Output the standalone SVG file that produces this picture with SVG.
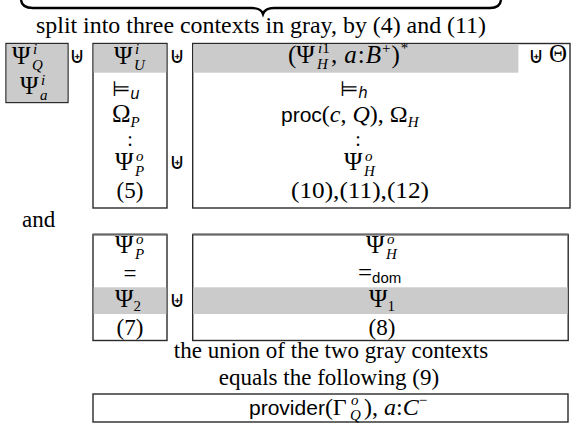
<svg xmlns="http://www.w3.org/2000/svg" width="574" height="426" viewBox="0 0 574 426">
<style>
text{font-family:"Liberation Serif","Times New Roman",serif;font-size:23px;fill:#000}
.m{font-size:25px}
.i{font-style:italic}
.sc{font-size:15px;font-style:italic}
.su{font-size:15px;font-style:normal}
.sf{font-family:"Liberation Sans",Arial,sans-serif;font-size:21px;font-style:normal}
.sfs{font-family:"Liberation Sans",Arial,sans-serif;font-size:15px}
.op{font-family:"DejaVu Sans",sans-serif;font-size:22px}
.ent{font-family:"DejaVu Sans",sans-serif;font-size:21px}
.dots{font-size:20px}
.box{fill:#fff;stroke:#2a2a2a;stroke-width:1.4}
.gray{fill:#cbcbcb;stroke:none}
.topedge{stroke:#6a6a6a;stroke-width:2.2}
.mid{text-anchor:middle}
</style>
<rect width="574" height="426" fill="#fff"/>
<g id="connectors">
  <path id="brace" d="M21,0 Q22,8 33,8 L252,8 Q261,8 263,14 Q265,8 274,8 L490,8 Q500,8 501,0" fill="none" stroke="#000" stroke-width="2.4"/>
</g>
<g id="title">
  <text class="mid" x="261" y="33" textLength="450" lengthAdjust="spacingAndGlyphs">split into three contexts in gray, by (4) and (11)</text>
</g>
<g id="box1">
  <rect class="box" x="6" y="43.5" width="62" height="59"/>
  <rect class="gray" x="6.7" y="44.2" width="60.6" height="57.6"/>
  <text class="m" x="12" y="64">Ψ</text><text class="sc" x="33" y="54">i</text><text class="sc" x="32" y="70">Q</text>
  <text class="m" x="20" y="94">Ψ</text><text class="sc" x="41" y="85">i</text><text class="sc" x="40" y="100">a</text>
</g>
<g id="union1"><text class="op mid" x="77" y="63">⊎</text></g>
<g id="box2">
  <rect class="box" x="93" y="43.5" width="74" height="164.5"/>
  <rect class="gray" x="93.7" y="44.2" width="72.6" height="28.5"/>
  <text class="m" x="114" y="64">Ψ</text><text class="sc" x="135" y="54">i</text><text class="sc" x="134" y="70">U</text>
  <text class="ent" x="112" y="96">⊨<tspan class="sc" dy="3">u</tspan></text>
  <text class="m" x="112" y="122">Ω<tspan class="sc" dy="5">P</tspan></text>
  <text class="mid dots" x="130" y="146">:</text>
  <text class="m" x="115" y="170">Ψ</text><text class="sc" x="136" y="161">o</text><text class="sc" x="135" y="176">P</text>
  <text class="mid" x="130" y="198">(5)</text>
</g>
<g id="union2"><text class="op mid" x="177" y="63">⊎</text><text class="op mid" x="177" y="169">⊎</text></g>
<g id="box3">
  <rect class="box" x="192.7" y="43.5" width="377.3" height="164.5"/>
  <rect class="gray" x="193.4" y="44.2" width="325" height="28.5"/>
  <text class="m" x="288" y="63">(Ψ</text><text class="sc" x="318" y="53">i<tspan class="su">1</tspan></text><text class="sc" x="317" y="69">H</text>
  <text class="m" x="331" y="63">,<tspan class="i" dx="7">a</tspan><tspan dx="1">:</tspan><tspan class="i" dx="1">B</tspan><tspan class="su" dx="1" dy="-10">+</tspan><tspan dx="1" dy="10">)</tspan><tspan class="su" dx="1" dy="-10">*</tspan></text>
  <text class="op" x="528" y="63">⊎</text><text class="m" x="549" y="62">Θ</text>
  <text class="ent" x="340" y="96">⊨<tspan class="sc" dy="2">h</tspan></text>
  <text class="m" x="281" y="122" style="font-size:24px"><tspan class="sf">proc</tspan>(<tspan class="i">c</tspan>, <tspan class="i">Q</tspan>), Ω<tspan class="sc" dy="5">H</tspan></text>
  <text class="mid dots" x="358" y="146">:</text>
  <text class="m" x="344" y="170">Ψ</text><text class="sc" x="365" y="161">o</text><text class="sc" x="364" y="176">H</text>
  <text class="mid" x="360" y="198" textLength="138" lengthAdjust="spacingAndGlyphs">(10),(11),(12)</text>
</g>
<g id="and"><text x="22" y="227">and</text></g>
<g id="boxA">
  <rect class="box" x="93" y="234.5" width="74" height="106"/>
  <line class="topedge" x1="93" y1="234.5" x2="167" y2="234.5"/>
  <rect class="gray" x="93.7" y="287.3" width="72.6" height="26.7"/>
  <text class="m" x="115" y="253">Ψ</text><text class="sc" x="136" y="244">o</text><text class="sc" x="135" y="259">P</text>
  <text class="mid" x="130" y="281">=</text>
  <text class="m" x="115" y="307">Ψ<tspan class="su" dy="4">2</tspan></text>
  <text class="mid" x="130" y="335">(7)</text>
</g>
<g id="union3"><text class="op mid" x="177" y="307">⊎</text></g>
<g id="boxB">
  <rect class="box" x="192.7" y="234.5" width="375.5" height="106"/>
  <line class="topedge" x1="192.7" y1="234.5" x2="568.2" y2="234.5"/>
  <rect class="gray" x="193.4" y="287.3" width="374.1" height="26.7"/>
  <text class="m" x="366" y="253">Ψ</text><text class="sc" x="387" y="244">o</text><text class="sc" x="386" y="259">H</text>
  <text x="358" y="281" style="font-size:25px">=<tspan class="sfs" dy="2">dom</tspan></text>
  <text class="m" x="369" y="307">Ψ<tspan class="su" dy="4">1</tspan></text>
  <text class="mid" x="382" y="335">(8)</text>
</g>
<g id="caption">
  <text class="mid" x="331" y="358">the union of the two gray contexts</text>
  <text class="mid" x="329" y="385">equals the following (9)</text>
</g>
<g id="result">
  <rect class="box" x="93" y="394" width="475" height="28"/>
  <text class="m" x="249" y="415" style="font-size:24px"><tspan class="sf">provider</tspan>(Γ</text><text class="sc" x="351" y="405">o</text><text class="sc" x="350" y="420">Q</text>
  <text class="m" x="364" y="415" style="font-size:24px">),<tspan class="i" dx="6">a</tspan>:<tspan class="i">C</tspan><tspan class="su" dy="-10">−</tspan></text>
</g>
</svg>
